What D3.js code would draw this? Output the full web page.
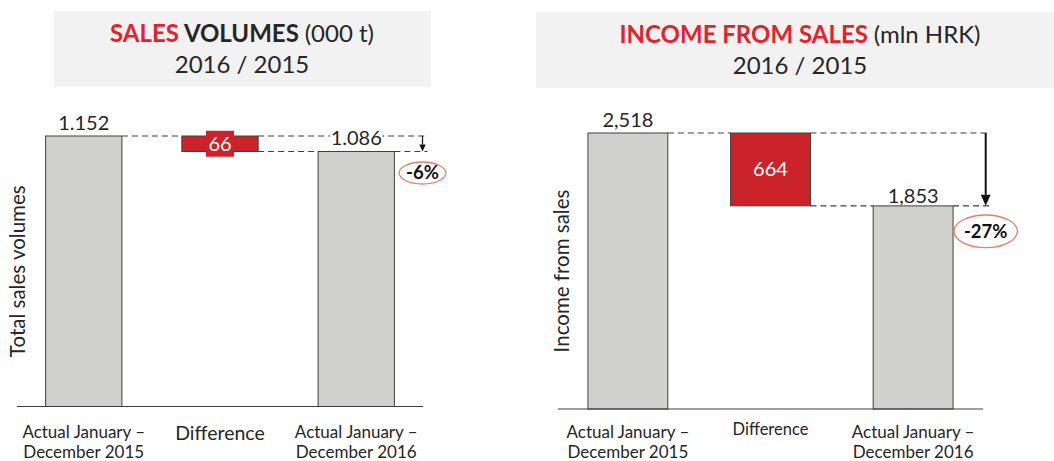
<!DOCTYPE html>
<html>
<head>
<meta charset="utf-8">
<script src="https://cdn.jsdelivr.net/npm/d3@7"></script>
<style>
  body { margin: 0; background: #fff; }
  svg text { font-family: Lato, "Open Sans", sans-serif; fill: #262626; }
</style>
</head>
<body>
<svg id="chart" width="1054" height="461"></svg>
<script>
// data
var categories = ["Actual January – December 2015", "Difference", "Actual January – December 2016"];

var volumeValues = [1152, 66, 1086];
var volumeLabels = ["1.152", "66", "1.086"];
var volumeChange = "-6%";

var incomeValues = [2518, 664, 1853];
var incomeLabels = ["2,518", "664", "1,853"];
var incomeChange = "-27%";

var svg = d3.select("#chart");
const grey = "#d0d0ce", red = "#cc2229", titleRed = "#e8202a", dark = "#404040";

var draw_waterfall = function(opt) {
  var g = svg.append("g");

  // title box
  g.append("rect")
    .attr("x", opt.box[0]).attr("y", opt.box[1])
    .attr("width", opt.box[2]).attr("height", opt.box[3])
    .attr("fill", "#f2f2f2");
  var t1 = g.append("text")
    .attr("x", opt.titleX).attr("y", opt.box[1] + 31)
    .attr("text-anchor", "middle").style("font-size", "24px");
  t1.append("tspan").attr("font-weight", "bold").style("fill", titleRed).text(opt.title[0]);
  if (opt.title[1]) t1.append("tspan").attr("font-weight", "bold").text(opt.title[1]);
  t1.append("tspan").text(opt.title[2]);
  g.append("text")
    .attr("x", opt.titleX).attr("y", opt.box[1] + 62)
    .attr("text-anchor", "middle").style("font-size", "24px")
    .text("2016 / 2015");

  var x = d3.scaleBand().domain(categories).range(opt.xr).paddingInner(0.44).paddingOuter(0.21);
  var y = d3.scaleLinear().domain([0, opt.values[0]]).range([opt.base, opt.top]);

  var v = opt.values;
  var bars = [
    {c: categories[0], y0: 0, y1: v[0], fill: grey},
    {c: categories[1], y0: v[0] - v[1], y1: v[0], fill: red},
    {c: categories[2], y0: 0, y1: v[2], fill: grey}
  ];

  var right = opt.arrowX + 5;
  // connectors (dashed)
  var dash = [
    [x(categories[0]) + x.bandwidth(), x(categories[1]), y(v[0])],
    [x(categories[1]) + x.bandwidth(), right, y(v[0])],
    [x(categories[1]) + x.bandwidth(), x(categories[2]), y(v[0] - v[1])],
    [x(categories[2]) + x.bandwidth(), right, y(v[0] - v[1])]
  ];
  g.selectAll(".dash").data(dash).enter().append("line")
    .attr("x1", d => d[0]).attr("x2", d => d[1])
    .attr("y1", d => d[2]).attr("y2", d => d[2])
    .attr("stroke", dark).attr("stroke-width", 1.2).attr("stroke-dasharray", "6,4");

  g.selectAll(".bar").data(bars).enter().append("rect")
    .attr("x", d => x(d.c)).attr("width", x.bandwidth())
    .attr("y", d => y(d.y1)).attr("height", d => y(d.y0) - y(d.y1))
    .attr("fill", d => d.fill).attr("stroke", dark).attr("stroke-width", 1);

  // axis baseline
  g.append("line")
    .attr("x1", opt.xr[0]).attr("x2", opt.xr[1])
    .attr("y1", opt.base).attr("y2", opt.base)
    .attr("stroke", dark).attr("stroke-width", 1.2);

  // value labels
  var cx = c => x(c) + x.bandwidth() / 2;
  g.append("text").attr("x", cx(categories[0])).attr("y", y(v[0]) - 6)
    .attr("text-anchor", "middle").style("font-size", "20px").text(opt.labels[0]);

  var dh = y(v[0] - v[1]) - y(v[0]);
  var dmid = y(v[0]) + dh / 2;
  if (dh < 24) {
    g.append("rect").attr("x", cx(categories[1]) - 14).attr("y", dmid - 13)
      .attr("width", 28).attr("height", 26).attr("fill", red);
  }
  g.append("text").attr("x", cx(categories[1])).attr("y", dmid + 7)
    .attr("text-anchor", "middle").style("font-size", "20px").style("fill", "#fff")
    .text(opt.labels[1]);

  var l3y = opt.label3y(y(v[2]));
  if (opt.label3bg) {
    g.append("rect").attr("x", cx(categories[2]) - 26).attr("y", y(v[0]) - 2)
      .attr("width", 52).attr("height", 4).attr("fill", "#fff");
  }
  g.append("text").attr("x", cx(categories[2])).attr("y", l3y)
    .attr("text-anchor", "middle").style("font-size", "20px").text(opt.labels[2]);

  // arrow
  var ay0 = y(v[0]), ay1 = y(v[0] - v[1]);
  g.append("line").attr("x1", opt.arrowX).attr("x2", opt.arrowX)
    .attr("y1", ay0).attr("y2", ay1 - opt.head)
    .attr("stroke", "#111").attr("stroke-width", opt.arrowW);
  g.append("path")
    .attr("d", "M" + (opt.arrowX - opt.head * 0.45) + "," + (ay1 - opt.head) +
      "L" + (opt.arrowX + opt.head * 0.45) + "," + (ay1 - opt.head) +
      "L" + opt.arrowX + "," + ay1 + "Z")
    .attr("fill", "#111");

  // change ellipse
  g.append("ellipse").attr("cx", opt.arrowX).attr("cy", ay1 + opt.ell[2])
    .attr("rx", opt.ell[0]).attr("ry", opt.ell[1])
    .attr("fill", "#fff").attr("stroke", "#f07a68").attr("stroke-width", 1.3);
  g.append("text").attr("x", opt.arrowX).attr("y", ay1 + opt.ell[2] + 6.5)
    .attr("text-anchor", "middle").attr("font-weight", "bold")
    .style("font-size", "18.5px").style("fill", "#111").text(opt.change);

  // y axis title
  g.append("text")
    .attr("transform", "translate(" + opt.yTitleX + "," + ((opt.top + opt.base) / 2) + ") rotate(-90)")
    .attr("text-anchor", "middle").style("font-size", "20.5px").text(opt.yTitle);

  // category labels
  categories.forEach(function(c, i) {
    if (c == "Difference") {
      g.append("text").attr("x", cx(c)).attr("y", opt.diffY)
        .attr("text-anchor", "middle").style("font-size", opt.diffSize).text(c);
    } else {
      var parts = ["Actual January –", c.split("– ")[1]];
      parts.forEach(function(p, j) {
        g.append("text").attr("x", cx(c)).attr("y", 438 + j * 20)
          .attr("text-anchor", "middle").style("font-size", "17px").text(p);
      });
    }
  });
};

draw_waterfall({
  box: [54, 11, 377, 76], titleX: 242,
  title: ["SALES ", "VOLUMES ", "(000 t)"],
  xr: [17, 423], base: 406.5, top: 136,
  values: volumeValues, labels: volumeLabels, change: volumeChange,
  arrowX: 422.5, arrowW: 1.2, head: 7,
  ell: [23.3, 11, 21.5],
  label3y: function(yy) { return yy - 6.5; }, label3bg: true,
  yTitle: "Total sales volumes", yTitleX: 25,
  diffY: 440, diffSize: "19.5px"
});

draw_waterfall({
  box: [536, 12, 518, 76], titleX: 800,
  title: ["INCOME FROM SALES ", null, "(mln HRK)"],
  xr: [558, 983], base: 409, top: 133,
  values: incomeValues, labels: incomeLabels, change: incomeChange,
  arrowX: 985.7, arrowW: 2, head: 11,
  ell: [31.7, 16.3, 25.5],
  label3y: function(yy) { return yy - 3; }, label3bg: false,
  yTitle: "Income from sales", yTitleX: 569,
  diffY: 435, diffSize: "16.5px"
});
</script>
</body>
</html>
